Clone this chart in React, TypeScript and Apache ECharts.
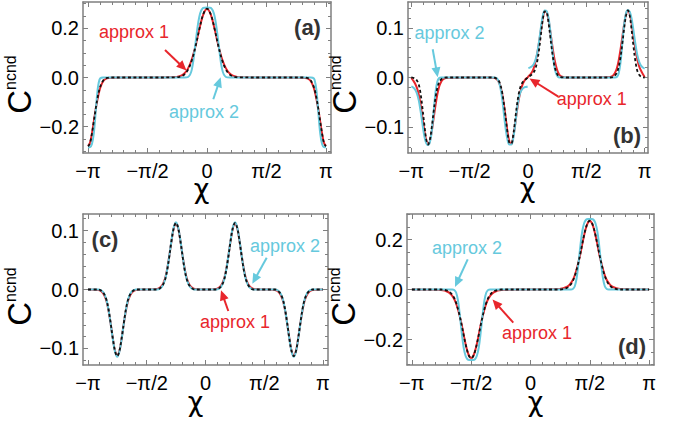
import React, { useEffect, useRef } from 'react';
import * as echarts from 'echarts';

const PI = Math.PI;
const FONT = '"Liberation Sans", Arial, Helvetica, sans-serif';
const CHI_FONT = '"DejaVu Sans", "Liberation Sans", sans-serif';
const FRAME = '#7f7f7f';
const RED = '#e8262c';
const CYAN = '#66c9dd';
const BLACK = '#111111';

// ---------- tick labels ----------
const xTickValues = [-PI, -PI / 2, 0, PI / 2, PI];
const xTickLabels = ['−π', '−π/2', '0', 'π/2', 'π'];
const xMinorSteps = [-9, -8, -7, -6, -4, -3, -2, -1, 1, 2, 3, 4, 6, 7, 8, 9]; // multiples of π/10
const yMajorWide = [-0.2, 0, 0.2];
const yMinorWide = [-0.3, -0.25, -0.15, -0.1, -0.05, 0.05, 0.1, 0.15, 0.25, 0.3];
const yMajorNarrow = [-0.1, 0, 0.1];
const yMinorB = [-0.14, -0.12, -0.08, -0.06, -0.04, -0.02, 0.02, 0.04, 0.06, 0.08, 0.12, 0.14];
const yMinorC = [-0.12, -0.08, -0.06, -0.04, -0.02, 0.02, 0.04, 0.06, 0.08, 0.12];

// ---------- panel (a) ----------
const xA = [-3.14, -3.09, -3.04, -2.99, -2.94, -2.89, -2.84, -2.79, -2.74, -2.69, -2.64, -2.54, -2.2, -1.4,
  -0.8, -0.7, -0.6, -0.5, -0.4, -0.3, -0.2, -0.1, 0, 0.1, 0.2, 0.3, 0.4, 0.5, 0.6, 0.7, 0.8,
  1.4, 2.2, 2.54, 2.64, 2.69, 2.74, 2.79, 2.84, 2.89, 2.94, 2.99, 3.04, 3.09, 3.14];
const blackA = [-0.280, -0.267, -0.230, -0.180, -0.128, -0.083, -0.048, -0.026, -0.012, -0.005, -0.002, 0, 0, 0,
  0.001, 0.004, 0.012, 0.032, 0.070, 0.128, 0.198, 0.257, 0.280, 0.257, 0.198, 0.128, 0.070, 0.032, 0.012, 0.004, 0.001,
  0, 0, 0, -0.002, -0.005, -0.012, -0.026, -0.048, -0.083, -0.128, -0.180, -0.230, -0.267, -0.280];
const redA = [-0.278, -0.266, -0.229, -0.181, -0.131, -0.088, -0.053, -0.030, -0.015, -0.007, -0.003, -0.001, 0, 0,
  0.002, 0.006, 0.016, 0.037, 0.074, 0.130, 0.198, 0.256, 0.279, 0.256, 0.198, 0.130, 0.074, 0.037, 0.016, 0.006, 0.002,
  0, 0, -0.001, -0.003, -0.007, -0.015, -0.030, -0.053, -0.088, -0.131, -0.181, -0.229, -0.266, -0.278];
const cyanA = [-0.284, -0.283, -0.271, -0.228, -0.142, -0.053, -0.009, -0.001, 0, 0, 0, 0, 0, 0,
  0, 0, 0, 0.002, 0.033, 0.144, 0.249, 0.283, 0.285, 0.283, 0.249, 0.144, 0.033, 0.002, 0, 0, 0,
  0, 0, 0, 0, 0, 0, -0.001, -0.009, -0.053, -0.142, -0.228, -0.271, -0.283, -0.284];

// ---------- panel (b) ----------
const xB = [-3.14, -3.09, -3.04, -2.99, -2.94, -2.89, -2.84, -2.79, -2.74, -2.69, -2.64, -2.59, -2.54, -2.49, -2.44, -2.39, -2.34, -2.29, -2.2,
  -1.6,
  -1.0, -0.9, -0.85, -0.8, -0.75, -0.7, -0.65, -0.6, -0.55, -0.5, -0.45, -0.4, -0.35, -0.3, -0.25, -0.2, -0.15, -0.1, -0.05, -0.01,
  0, 0.01, 0.05, 0.1, 0.15, 0.2, 0.25, 0.3, 0.35, 0.4, 0.45, 0.5, 0.55, 0.6, 0.65, 0.7, 0.75, 0.8, 0.85, 0.9, 1.0,
  1.6,
  2.2, 2.29, 2.34, 2.39, 2.44, 2.49, 2.54, 2.59, 2.64, 2.69, 2.74, 2.79, 2.84, 2.89, 2.94, 2.99, 3.04, 3.09, 3.14];
const blackB = [0, -0.0005, -0.002, -0.006, -0.014, -0.033, -0.062, -0.095, -0.124, -0.135, -0.125, -0.100, -0.069, -0.041, -0.021, -0.009, -0.004, -0.001, 0,
  0,
  0, -0.0005, -0.002, -0.005, -0.013, -0.028, -0.052, -0.082, -0.112, -0.132, -0.133, -0.117, -0.088, -0.057, -0.033, -0.018, -0.010, -0.006, -0.003, -0.0006,
  0, 0.0006, 0.003, 0.006, 0.010, 0.018, 0.033, 0.057, 0.088, 0.117, 0.133, 0.132, 0.112, 0.082, 0.052, 0.028, 0.013, 0.005, 0.002, 0.0005, 0,
  0,
  0, 0.001, 0.004, 0.009, 0.021, 0.041, 0.069, 0.100, 0.125, 0.135, 0.124, 0.095, 0.062, 0.033, 0.014, 0.006, 0.002, 0.0005, 0];
const redB = [-0.001, -0.006, -0.012, -0.021, -0.034, -0.055, -0.081, -0.106, -0.127, -0.135, -0.128, -0.108, -0.082, -0.056, -0.034, -0.018, -0.009, -0.004, -0.001,
  0,
  0, -0.001, -0.003, -0.007, -0.016, -0.031, -0.054, -0.082, -0.110, -0.129, -0.134, -0.121, -0.097, -0.069, -0.045, -0.027, -0.015, -0.007, -0.002, 0,
  0.001, 0.002, 0.005, 0.010, 0.018, 0.031, 0.049, 0.072, 0.097, 0.120, 0.133, 0.132, 0.117, 0.093, 0.066, 0.042, 0.024, 0.012, 0.005, 0.002, 0,
  0,
  0.001, 0.004, 0.009, 0.018, 0.034, 0.056, 0.082, 0.108, 0.128, 0.135, 0.128, 0.108, 0.083, 0.058, 0.037, 0.023, 0.014, 0.007, 0.001];
const cyanB = [-0.018, -0.020, -0.024, -0.032, -0.046, -0.068, -0.094, -0.118, -0.132, -0.136, -0.130, -0.108, -0.070, -0.030, -0.008, -0.001, 0, 0, 0,
  0,
  0, 0, -0.001, -0.006, -0.018, -0.040, -0.072, -0.104, -0.126, -0.135, -0.135, -0.124, -0.098, -0.066, -0.042, -0.029, -0.023, -0.020, -0.019, -0.018,
  null, 0.019, 0.020, 0.022, 0.026, 0.035, 0.050, 0.074, 0.102, 0.125, 0.135, 0.134, 0.121, 0.094, 0.058, 0.027, 0.009, 0.002, 0, 0, 0,
  0,
  0, 0, 0, 0.001, 0.008, 0.030, 0.070, 0.108, 0.130, 0.136, 0.132, 0.118, 0.094, 0.068, 0.046, 0.032, 0.024, 0.020, 0.018];

// ---------- panel (c) ----------
const xC = [-3.14,
  -2.86, -2.74, -2.66, -2.60, -2.54, -2.48, -2.42, -2.36, -2.30, -2.24, -2.18, -2.12, -2.06, -1.98, -1.86,
  -1.58,
  -1.29, -1.17, -1.09, -1.03, -0.97, -0.91, -0.85, -0.79, -0.73, -0.67, -0.61, -0.55, -0.49, -0.41, -0.29,
  0,
  0.29, 0.41, 0.49, 0.55, 0.61, 0.67, 0.73, 0.79, 0.85, 0.91, 0.97, 1.03, 1.09, 1.17, 1.29,
  1.58,
  1.86, 1.98, 2.06, 2.12, 2.18, 2.24, 2.30, 2.36, 2.42, 2.48, 2.54, 2.60, 2.66, 2.74, 2.86,
  3.14];
const blackC = [0,
  0, -0.005, -0.015, -0.031, -0.055, -0.082, -0.104, -0.113, -0.104, -0.082, -0.055, -0.031, -0.015, -0.005, 0,
  0,
  0, 0.005, 0.015, 0.031, 0.055, 0.082, 0.104, 0.113, 0.104, 0.082, 0.055, 0.031, 0.015, 0.005, 0,
  0,
  0, 0.005, 0.015, 0.031, 0.055, 0.082, 0.104, 0.113, 0.104, 0.082, 0.055, 0.031, 0.015, 0.005, 0,
  0,
  0, -0.005, -0.015, -0.031, -0.055, -0.082, -0.104, -0.113, -0.104, -0.082, -0.055, -0.031, -0.015, -0.005, 0,
  0];
const redC = [0,
  -0.001, -0.006, -0.017, -0.033, -0.056, -0.082, -0.104, -0.112, -0.104, -0.082, -0.056, -0.033, -0.017, -0.006, -0.001,
  0,
  0.001, 0.006, 0.017, 0.033, 0.056, 0.082, 0.104, 0.112, 0.104, 0.082, 0.056, 0.033, 0.017, 0.006, 0.001,
  0,
  0.001, 0.006, 0.017, 0.033, 0.056, 0.082, 0.104, 0.112, 0.104, 0.082, 0.056, 0.033, 0.017, 0.006, 0.001,
  0,
  -0.001, -0.006, -0.017, -0.033, -0.056, -0.082, -0.104, -0.112, -0.104, -0.082, -0.056, -0.033, -0.017, -0.006, -0.001,
  0];
const cyanC = [0,
  0, -0.004, -0.015, -0.032, -0.056, -0.083, -0.105, -0.114, -0.105, -0.083, -0.056, -0.032, -0.015, -0.004, 0,
  0,
  0, 0.004, 0.015, 0.032, 0.056, 0.083, 0.105, 0.114, 0.105, 0.083, 0.056, 0.032, 0.015, 0.004, 0,
  0,
  0, 0.004, 0.015, 0.032, 0.056, 0.083, 0.105, 0.114, 0.105, 0.083, 0.056, 0.032, 0.015, 0.004, 0,
  0,
  0, -0.004, -0.015, -0.032, -0.056, -0.083, -0.105, -0.114, -0.105, -0.083, -0.056, -0.032, -0.015, -0.004, 0,
  0];

// ---------- panel (d) ----------
const xD = [-3.14,
  -2.37, -2.17, -2.07, -2.02, -1.97, -1.92, -1.87, -1.82, -1.77, -1.72, -1.67, -1.62, -1.57,
  -1.52, -1.47, -1.42, -1.37, -1.32, -1.27, -1.22, -1.17, -1.12, -1.07, -0.97, -0.77,
  0,
  0.77, 0.97, 1.07, 1.12, 1.17, 1.22, 1.27, 1.32, 1.37, 1.42, 1.47, 1.52, 1.57,
  1.62, 1.67, 1.72, 1.77, 1.82, 1.87, 1.92, 1.97, 2.02, 2.07, 2.17, 2.37,
  3.14];
const blackD = [0,
  0, -0.007, -0.021, -0.034, -0.053, -0.078, -0.109, -0.144, -0.182, -0.218, -0.248, -0.268, -0.275,
  -0.268, -0.248, -0.218, -0.182, -0.144, -0.109, -0.078, -0.053, -0.034, -0.021, -0.007, 0,
  0,
  0, 0.007, 0.021, 0.034, 0.053, 0.078, 0.109, 0.144, 0.182, 0.218, 0.248, 0.268, 0.275,
  0.268, 0.248, 0.218, 0.182, 0.144, 0.109, 0.078, 0.053, 0.034, 0.021, 0.007, 0,
  0];
const redD = [0,
  -0.002, -0.011, -0.026, -0.038, -0.056, -0.080, -0.109, -0.143, -0.181, -0.217, -0.247, -0.267, -0.274,
  -0.267, -0.247, -0.217, -0.181, -0.143, -0.109, -0.080, -0.056, -0.038, -0.026, -0.011, -0.002,
  0,
  0.002, 0.011, 0.026, 0.038, 0.056, 0.080, 0.109, 0.143, 0.181, 0.217, 0.247, 0.267, 0.274,
  0.267, 0.247, 0.217, 0.181, 0.143, 0.109, 0.080, 0.056, 0.038, 0.026, 0.011, 0.002,
  0];
const cyanD = [0,
  0, 0, 0, -0.002, -0.012, -0.044, -0.104, -0.174, -0.232, -0.265, -0.279, -0.282, -0.282,
  -0.282, -0.279, -0.265, -0.232, -0.174, -0.104, -0.044, -0.012, -0.002, 0, 0, 0,
  0,
  0, 0, 0, 0.002, 0.012, 0.044, 0.104, 0.174, 0.232, 0.265, 0.279, 0.282, 0.282,
  0.282, 0.279, 0.265, 0.232, 0.174, 0.104, 0.044, 0.012, 0.002, 0, 0, 0,
  0];

const panels = [
  { x: xA, black: blackA, red: redA, cyan: cyanA, xr: 3.274, yr: 0.307, yMajor: yMajorWide, yMinor: yMinorWide,
    grid: { left: 83, top: 2, width: 248, height: 151 }, nameGap: 17.9, subLH: 54.6 },
  { x: xB, black: blackB, red: redB, cyan: cyanB, xr: 3.23, yr: 0.152, yMajor: yMajorNarrow, yMinor: yMinorB,
    grid: { left: 408, top: 2, width: 240, height: 151 }, nameGap: 12.9, subLH: 54.6 },
  { x: xC, black: blackC, red: redC, cyan: cyanC, xr: 3.275, yr: 0.128, yMajor: yMajorNarrow, yMinor: yMinorC,
    grid: { left: 83, top: 214, width: 245, height: 151 }, nameGap: 17.9, subLH: 54.6 },
  { x: xD, black: blackD, red: redD, cyan: cyanD, xr: 3.27, yr: 0.302, yMajor: yMajorWide, yMinor: yMinorWide,
    grid: { left: 407, top: 214, width: 247, height: 151 }, nameGap: 16.9, subLH: 50.6 },
];

const xFmt = (v: number) => {
  const i = xTickValues.findIndex((t) => Math.abs(t - v) < 1e-6);
  return i >= 0 ? xTickLabels[i] : '';
};
const yFmt = (v: number) => (Math.abs(v) < 1e-9 ? '0.0' : v.toFixed(1).replace('-', '−'));

function makeXAxes(i: number, xr: number) {
  const base = { type: 'value', gridIndex: i, min: -xr, max: xr, splitLine: { show: false } };
  const minor = xMinorSteps.map((k) => (k * PI) / 10);
  const line = { show: true, onZero: false, lineStyle: { color: FRAME, width: 1.5 } };
  const noLine = { show: false, onZero: false };
  return [
    { ...base, position: 'bottom', axisLine: line,
      axisTick: { show: true, inside: true, length: 5, customValues: xTickValues, lineStyle: { color: FRAME, width: 1 } },
      axisLabel: { show: true, customValues: xTickValues, formatter: xFmt, margin: 8, fontSize: 20, fontFamily: FONT, color: '#000' } },
    { ...base, position: 'bottom', axisLine: noLine,
      axisTick: { show: true, inside: true, length: 3, customValues: minor, lineStyle: { color: FRAME, width: 1 } },
      axisLabel: { show: false } },
    { ...base, position: 'top', axisLine: line,
      axisTick: { show: true, inside: true, length: 5, customValues: xTickValues, lineStyle: { color: FRAME, width: 1 } },
      axisLabel: { show: false } },
    { ...base, position: 'top', axisLine: noLine,
      axisTick: { show: true, inside: true, length: 3, customValues: minor, lineStyle: { color: FRAME, width: 1 } },
      axisLabel: { show: false } },
  ];
}

function makeYAxes(i: number, yr: number, major: number[], minor: number[], nameGap: number, subLH: number) {
  const base = { type: 'value', gridIndex: i, min: -yr, max: yr, splitLine: { show: false } };
  const line = { show: true, onZero: false, lineStyle: { color: FRAME, width: 1.5 } };
  const noLine = { show: false, onZero: false };
  return [
    { ...base, position: 'left', axisLine: line,
      name: '{c|C}{s|ncnd}', nameLocation: 'middle', nameRotate: 90, nameGap,
      nameTextStyle: {
        color: '#000', fontFamily: FONT, padding: [0, 14, 0, 0],
        rich: {
          c: { fontSize: 33, lineHeight: 32, verticalAlign: 'top', fontFamily: FONT, color: '#000' },
          s: { fontSize: 16, lineHeight: subLH, verticalAlign: 'top', fontFamily: FONT, color: '#000' },
        },
      },
      axisTick: { show: true, inside: true, length: 5, customValues: major, lineStyle: { color: FRAME, width: 1 } },
      axisLabel: { show: true, customValues: major, formatter: yFmt, margin: 4, fontSize: 20, fontFamily: FONT, color: '#000' } },
    { ...base, position: 'left', axisLine: noLine,
      axisTick: { show: true, inside: true, length: 3, customValues: minor, lineStyle: { color: FRAME, width: 1 } },
      axisLabel: { show: false } },
    { ...base, position: 'right', axisLine: line,
      axisTick: { show: true, inside: true, length: 5, customValues: major, lineStyle: { color: FRAME, width: 1 } },
      axisLabel: { show: false } },
    { ...base, position: 'right', axisLine: noLine,
      axisTick: { show: true, inside: true, length: 3, customValues: minor, lineStyle: { color: FRAME, width: 1 } },
      axisLabel: { show: false } },
  ];
}

const toData = (xs: number[], ys: (number | null)[]) => xs.map((x, i) => [x, ys[i] === null ? '-' : ys[i]]);

function arrow(x1: number, y1: number, x2: number, y2: number, color: string) {
  const dx = x2 - x1;
  const dy = y2 - y1;
  const L = Math.hypot(dx, dy);
  const ux = dx / L;
  const uy = dy / L;
  const hl = 10;
  const hw = 4.5;
  const bx = x2 - ux * hl;
  const by = y2 - uy * hl;
  return [
    { type: 'line', silent: true, shape: { x1, y1, x2: bx + ux * 2, y2: by + uy * 2 }, style: { stroke: color, lineWidth: 2 } },
    { type: 'polygon', silent: true,
      shape: { points: [[x2, y2], [bx - uy * hw, by + ux * hw], [bx + uy * hw, by - ux * hw]] },
      style: { fill: color } },
  ];
}

function txt(text: string, x: number, y: number, size: number, color: string, weight = 'normal', family = FONT) {
  return {
    type: 'text', silent: true, x, y,
    style: { text, fill: color, fontSize: size, fontFamily: family, fontWeight: weight, align: 'center', verticalAlign: 'middle' },
  };
}

export default function App() {
  const ref = useRef<HTMLDivElement>(null);
  useEffect(() => {
    if (!ref.current) return;
    const chart = echarts.init(ref.current, null, { renderer: 'svg' });
    const xAxis: any[] = [];
    const yAxis: any[] = [];
    const series: any[] = [];
    panels.forEach((p, i) => {
      xAxis.push(...makeXAxes(i, p.xr));
      yAxis.push(...makeYAxes(i, p.yr, p.yMajor, p.yMinor, p.nameGap, p.subLH));
      const common = { type: 'line', xAxisIndex: 4 * i, yAxisIndex: 4 * i, showSymbol: false, symbol: 'none',
        smooth: 0.35, connectNulls: false, silent: true };
      series.push({ ...common, data: toData(p.x, p.red), lineStyle: { color: RED, width: 2 }, z: 2 });
      series.push({ ...common, data: toData(p.x, p.cyan), lineStyle: { color: CYAN, width: 2 }, z: 3 });
      series.push({ ...common, data: toData(p.x, p.black), lineStyle: { color: BLACK, width: 1.8, type: [3, 2.5] }, z: 4 });
    });

    const graphic: any[] = [
      // panel labels
      txt('(a)', 307.5, 27.5, 22, '#333', 'bold'),
      txt('(b)', 627, 135, 22, '#333', 'bold'),
      txt('(c)', 105, 239.5, 22, '#333', 'bold'),
      txt('(d)', 632, 346, 22, '#333', 'bold'),
      // x-axis titles
      txt('χ', 201.5, 188, 27, '#000', 'normal', CHI_FONT),
      txt('χ', 527.5, 187, 27, '#000', 'normal', CHI_FONT),
      txt('χ', 195.5, 401, 27, '#000', 'normal', CHI_FONT),
      txt('χ', 535.5, 401, 27, '#000', 'normal', CHI_FONT),
      // annotations
      txt('approx 1', 134, 32, 18, RED),
      txt('approx 2', 204, 112, 18, CYAN),
      txt('approx 2', 449.5, 33, 18, CYAN),
      txt('approx 1', 591.7, 99, 18, RED),
      txt('approx 2', 285, 245.5, 18, CYAN),
      txt('approx 1', 235, 321.5, 18, RED),
      txt('approx 2', 467, 247.5, 18, CYAN),
      txt('approx 1', 537, 332.5, 18, RED),
      ...arrow(165, 50, 186.5, 70.5, RED),
      ...arrow(213.3, 99.3, 220.7, 77.3, CYAN),
      ...arrow(432.7, 49.3, 437.7, 77.3, CYAN),
      ...arrow(558.3, 96.7, 529.5, 78.5, RED),
      ...arrow(266.7, 257.7, 252.3, 283.7, CYAN),
      ...arrow(228.3, 311, 221, 290.3, RED),
      ...arrow(467.7, 259.3, 455, 287, CYAN),
      ...arrow(513.3, 322.7, 492.5, 299.5, RED),
    ];

    chart.setOption({
      animation: false,
      backgroundColor: '#ffffff',
      grid: panels.map((p) => ({ ...p.grid, containLabel: false })),
      xAxis,
      yAxis,
      series,
      graphic,
    });
    return () => chart.dispose();
  }, []);
  return <div ref={ref} style={{ position: 'absolute', left: 0, top: 0, width: 689, height: 422 }} />;
}
